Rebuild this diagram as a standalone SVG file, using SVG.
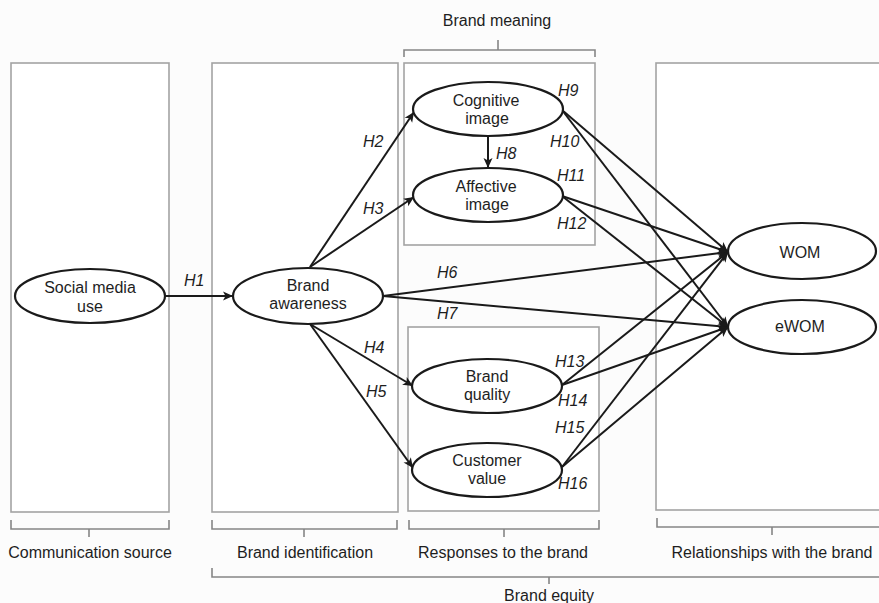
<svg xmlns="http://www.w3.org/2000/svg" width="879" height="603" viewBox="0 0 879 603">
<defs>
<marker id="arr" markerUnits="userSpaceOnUse" markerWidth="12" markerHeight="12" viewBox="0 0 12 12" refX="11" refY="6" orient="auto">
<path d="M1,1.5 L11,6 L1,10.5 L3.5,6 z" fill="#1a1a1a"/>
</marker>
</defs>
<style>
.panel{fill:#ffffff;stroke:#a3a3a3;stroke-width:1.6}
.brk{fill:none;stroke:#858585;stroke-width:1.6}
.node{fill:#ffffff;stroke:#1a1a1a;stroke-width:2.2}
.lbl{font-family:"Liberation Sans",Arial,sans-serif;font-size:16px;fill:#1e1e1e;text-anchor:middle}
.cap{font-family:"Liberation Sans",Arial,sans-serif;font-size:16px;fill:#1e1e1e;text-anchor:middle}
.h{font-family:"Liberation Sans",Arial,sans-serif;font-size:16px;font-style:italic;fill:#1e1e1e}
.con{stroke:#1a1a1a;stroke-width:2;fill:none;marker-end:url(#arr)}
</style>
<rect x="0" y="0" width="879" height="603" fill="#fcfcfc"/>
<g id="panels">
<rect class="panel" x="11" y="63" width="158" height="449"/>
<rect class="panel" x="212" y="63" width="186" height="449"/>
<rect class="panel" x="404" y="63" width="191" height="182"/>
<rect class="panel" x="408" y="327" width="191" height="184"/>
<rect class="panel" x="656" y="63" width="230" height="447"/>
</g>
<g id="brackets">
<path class="brk" d="M404,57 L404,50 L595,50 L595,57 M498,50 L498,40"/>
<path class="brk" d="M11,520 L11,529 L169,529 L169,520 M89,529 L89,537"/>
<path class="brk" d="M212,520 L212,529 L397,529 L397,520 M304,529 L304,537"/>
<path class="brk" d="M409,520 L409,529 L599,529 L599,520 M504,529 L504,537"/>
<path class="brk" d="M657,518 L657,527 L882,527 M772,527 L772,535"/>
<path class="brk" d="M212,568 L212,577 L882,577 M549,577 L549,584"/>
</g>
<g id="captions">
<text class="cap" x="497" y="26">Brand meaning</text>
<text class="cap" x="90" y="558">Communication source</text>
<text class="cap" x="305" y="558">Brand identification</text>
<text class="cap" x="503" y="558">Responses to the brand</text>
<text class="cap" x="772" y="558">Relationships with the brand</text>
<text class="cap" x="549" y="601">Brand equity</text>
</g>
<g id="connectors">
<line class="con" x1="165" y1="296" x2="233" y2="296"/>
<line class="con" x1="310" y1="267" x2="414" y2="112"/>
<line class="con" x1="310" y1="267" x2="414" y2="197"/>
<line class="con" x1="310" y1="324" x2="413" y2="386"/>
<line class="con" x1="310" y1="324" x2="413" y2="468"/>
<line class="con" x1="383" y1="296" x2="728" y2="252"/>
<line class="con" x1="383" y1="296" x2="728" y2="327"/>
<line class="con" x1="488" y1="136" x2="488" y2="168"/>
<line class="con" x1="562" y1="110" x2="728" y2="252"/>
<line class="con" x1="562" y1="110" x2="728" y2="327"/>
<line class="con" x1="562" y1="196" x2="728" y2="252"/>
<line class="con" x1="562" y1="196" x2="728" y2="327"/>
<line class="con" x1="562" y1="385" x2="728" y2="252"/>
<line class="con" x1="562" y1="385" x2="728" y2="327"/>
<line class="con" x1="562" y1="467" x2="728" y2="252"/>
<line class="con" x1="562" y1="467" x2="728" y2="327"/>
</g>
<g id="hlabels">
<text class="h" x="184" y="286">H1</text>
<text class="h" x="363" y="147">H2</text>
<text class="h" x="363" y="214">H3</text>
<text class="h" x="364" y="353">H4</text>
<text class="h" x="366" y="397">H5</text>
<text class="h" x="437" y="278">H6</text>
<text class="h" x="437" y="319">H7</text>
<text class="h" x="496" y="159">H8</text>
<text class="h" x="558" y="96">H9</text>
<text class="h" x="550" y="147">H10</text>
<text class="h" x="557" y="181">H11</text>
<text class="h" x="557" y="229">H12</text>
<text class="h" x="555" y="367">H13</text>
<text class="h" x="558" y="406">H14</text>
<text class="h" x="555" y="433">H15</text>
<text class="h" x="558" y="489">H16</text>
</g>
<g id="social-media-use">
<ellipse class="node" cx="90" cy="296" rx="75" ry="27"/>
<text class="lbl" x="90" y="293">Social media</text>
<text class="lbl" x="90" y="312">use</text>
</g>
<g id="brand-awareness">
<ellipse class="node" cx="308" cy="296" rx="75" ry="28"/>
<text class="lbl" x="308" y="291">Brand</text>
<text class="lbl" x="308" y="309">awareness</text>
</g>
<g id="cognitive-image">
<ellipse class="node" cx="488" cy="109" rx="75" ry="27"/>
<text class="lbl" x="486" y="106">Cognitive</text>
<text class="lbl" x="487" y="124">image</text>
</g>
<g id="affective-image">
<ellipse class="node" cx="488" cy="195" rx="75" ry="27"/>
<text class="lbl" x="486" y="192">Affective</text>
<text class="lbl" x="487" y="210">image</text>
</g>
<g id="brand-quality">
<ellipse class="node" cx="487" cy="386" rx="75" ry="27"/>
<text class="lbl" x="487" y="382">Brand</text>
<text class="lbl" x="487" y="400">quality</text>
</g>
<g id="customer-value">
<ellipse class="node" cx="487" cy="470" rx="75" ry="27"/>
<text class="lbl" x="487" y="466">Customer</text>
<text class="lbl" x="487" y="484">value</text>
</g>
<g id="wom">
<ellipse class="node" cx="802" cy="251" rx="74" ry="28"/>
<text class="lbl" x="800" y="258">WOM</text>
</g>
<g id="ewom">
<ellipse class="node" cx="802" cy="327" rx="74" ry="27"/>
<text class="lbl" x="800" y="332">eWOM</text>
</g>
</svg>
